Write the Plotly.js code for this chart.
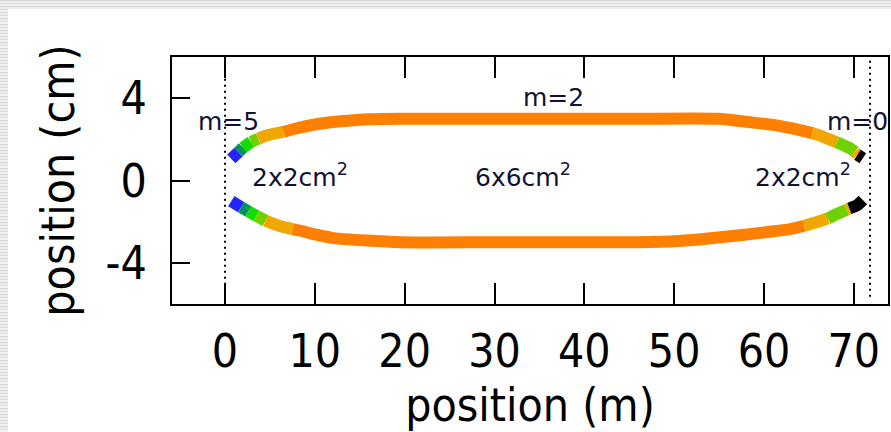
<!DOCTYPE html>
<html>
<head>
<meta charset="utf-8">
<script src="https://cdn.plot.ly/plotly-3.0.1.min.js"></script>
<style>
  html, body { margin: 0; padding: 0; width: 891px; height: 432px; overflow: hidden; }
  body {
    background-color: #e2e2e2;
    background-image: repeating-linear-gradient(180deg, #d6d6d6 0px, #d6d6d6 1px, #ececec 1px, #ececec 3px, #dcdcdc 3px, #dcdcdc 4px, #f0f0f0 4px, #f0f0f0 6px);
  }
  #chart { position: absolute; left: 8px; top: 9px; width: 883px; height: 423px; background: #fff; }
</style>
</head>
<body>
<div id="chart"></div>
<script>
// Upper branch of the beam envelope: position (m) vs half-width (cm)
const topX = [0.7, 1.5, 2.0, 2.9, 3.7, 4.7, 6.5, 8.0, 10.0, 12.0, 14.0, 16.0, 19.5, 30.0, 45.0, 55.0, 57.3, 61.0, 64.0, 65.4, 66.0, 68.1, 69.6, 70.1, 70.4, 71.0];
const topY = [1.05, 1.38, 1.60, 1.88, 2.03, 2.20, 2.36, 2.54, 2.72, 2.84, 2.92, 2.97, 3.00, 3.00, 3.00, 3.00, 2.89, 2.70, 2.45, 2.30, 2.22, 1.86, 1.56, 1.40, 1.25, 1.08];
// Mode code of each stretch (from point i to point i+1)
const topM = ['b', 't', 'g', 'l', 'y', 'y', 'o', 'o', 'o', 'o', 'o', 'o', 'o', 'o', 'o', 'o', 'o', 'o', 'o', 'y', 'y', 'l', 'l', 'y', 'k', 'k'];

// Lower branch
const botX = [0.7, 1.8, 2.6, 3.5, 4.5, 6.0, 7.5, 8.3, 10.0, 12.1, 15.8, 19.5, 30.0, 45.0, 50.0, 53.0, 57.3, 60.0, 62.9, 64.5, 66.0, 67.1, 68.1, 69.2, 69.5, 70.4, 71.0];
const botY = [-1.00, -1.30, -1.50, -1.72, -1.95, -2.20, -2.36, -2.43, -2.62, -2.80, -2.92, -3.00, -3.00, -3.00, -2.95, -2.85, -2.66, -2.52, -2.36, -2.20, -2.00, -1.85, -1.63, -1.42, -1.36, -1.19, -0.95];
const botM = ['b', 't', 'g', 'l', 'y', 'y', 'o', 'o', 'o', 'o', 'o', 'o', 'o', 'o', 'o', 'o', 'o', 'o', 'o', 'y', 'y', 'l', 'l', 'y', 'k', 'k', 'k'];

// Aperture boundaries (m)
const apertureX = [0, 71.8];

// Text labels
const labelText = ['m=5', 'm=2', 'm=0', '2x2cm<sup>2</sup>', '6x6cm<sup>2</sup>', '2x2cm<sup>2</sup>'];
const labelX = [0.4, 36.6, 70.4, 8.3, 33.2, 64.3];
const labelY = [2.85, 4.05, 2.85, 0.25, 0.25, 0.25];

const xTicks = [0, 10, 20, 30, 40, 50, 60, 70];
const yTicks = [-4, 0, 4];

const modeColor = { b: '#2424ff', t: '#00935a', g: '#12dc00', l: '#6fd200', y: '#f0a800', o: '#ff8000', k: '#000000' };

// Split a branch into runs of equal mode, each run sharing its end point with the next
function branchTraces(xs, ys, ms) {
  const out = [];
  let start = 0;
  for (let i = 1; i < xs.length; i++) {
    const last = i === xs.length - 1;
    if (last || ms[i] !== ms[start]) {
      out.push({
        type: 'scatter', mode: 'lines',
        x: xs.slice(start, i + 1), y: ys.slice(start, i + 1),
        line: { color: modeColor[ms[start]], width: 12, shape: 'spline', smoothing: 0.6 },
        hoverinfo: 'skip', showlegend: false
      });
      start = i;
    }
  }
  return out;
}

const traces = branchTraces(topX, topY, topM).concat(branchTraces(botX, botY, botM));

const FONT = '"DejaVu Sans Condensed", "Liberation Sans", sans-serif';

const layout = {
  width: 883, height: 423,
  margin: { l: 164, r: 3, t: 48, b: 128 },
  paper_bgcolor: '#ffffff', plot_bgcolor: '#ffffff',
  font: { family: FONT, color: '#000' },
  xaxis: {
    range: [-5.9, 73.8], tickvals: xTicks, ticktext: xTicks.map(String),
    ticks: 'inside', ticklen: 21, tickwidth: 2, tickcolor: '#000',
    showline: true, linecolor: '#000', linewidth: 2, mirror: 'ticks',
    showgrid: false, zeroline: false,
    tickfont: { size: 46 }, ticklabelstandoff: 6,
    title: { text: 'position (m)', font: { size: 46 }, standoff: 4 }
  },
  yaxis: {
    range: [-6, 6], tickvals: yTicks, ticktext: yTicks.map(String),
    ticks: 'inside', ticklen: 18, tickwidth: 2, tickcolor: '#000',
    showline: true, linecolor: '#000', linewidth: 2, mirror: true,
    showgrid: false, zeroline: false,
    tickfont: { size: 46 }, ticklabelstandoff: 14,
    title: { text: 'position (cm)', font: { size: 46 }, standoff: 16 }
  },
  shapes: apertureX.map(x => ({
    type: 'line', xref: 'x', yref: 'y', x0: x, x1: x, y0: -5.65, y1: 5.95,
    line: { color: '#000', width: 2, dash: '2px,4px' }, layer: 'below'
  })),
  annotations: labelText.map((t, i) => ({
    x: labelX[i], y: labelY[i], xref: 'x', yref: 'y', text: t, showarrow: false,
    font: { family: '"DejaVu Sans", sans-serif', size: 25, color: '#111133' },
    xanchor: 'center', yanchor: 'middle'
  }))
};

Plotly.newPlot('chart', traces, layout, { staticPlot: true, displayModeBar: false });
</script>
</body>
</html>
